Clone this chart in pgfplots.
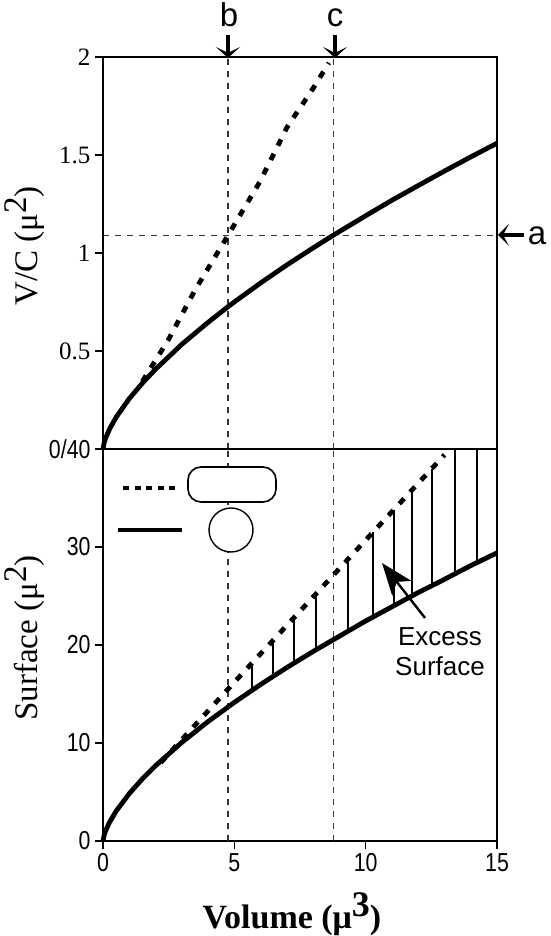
\documentclass[border=0pt]{standalone}
\usepackage{pgfplots}
\pgfplotsset{compat=1.18}
\usepackage{fontspec}
\setmainfont{Liberation Serif}
\newfontfamily\sansf{Liberation Sans}
\newfontfamily\ticksans[FakeStretch=0.82]{Liberation Sans}
\usetikzlibrary{arrows.meta}
\newcommand{\supr}[2]{\raisebox{0.34em}{\fontsize{#1}{#1}\selectfont #2}}
\pgfplotsset{
  common/.style={
    width=394pt, scale only axis, clip=false,
    xmin=0, xmax=15,
    axis line style={line width=1.4pt},
    tick style={line width=1.3pt, black},
    tick align=outside, major tick length=8pt,
    /pgf/number format/assume math mode=true,
  },
  guide/.style={black!80, line width=1.1pt, dash pattern=on 6pt off 6pt},
  solidc/.style={black, line width=4.8pt},
  dotc/.style={black, line width=4.8pt, dash pattern=on 7pt off 9pt},
  hatch/.style={black, line width=1.5pt},
}
\begin{document}
\begin{tikzpicture}[x=1pt,y=1pt]
\path[use as bounding box] (0,0) rectangle (550,936);
% upper panel
\begin{axis}[common, at={(103pt,487pt)}, height=392pt,
  ymin=0, ymax=2,
  xtick=\empty,
  ytick={0.5,1,1.5,2}, yticklabels={0.5,1,1.5,2},
  ytick pos=left,
  yticklabel style={font=\fontsize{25}{25}\selectfont, xshift=-1pt},
  ylabel={V/C (μ\supr{33}{2})},
  every axis y label/.style={rotate=90, anchor=base, inner sep=0pt,
     at={(-65pt,203pt)}, font=\fontsize{33}{33}\selectfont},
]
\addplot[guide] coordinates {(4.76,0) (4.76,2)};
\addplot[guide] coordinates {(8.76,0) (8.76,2)};
\addplot[guide] coordinates {(0,1.09) (15,1.09)};
\addplot[dotc] coordinates {(1.5,0.345) (2.5,0.56) (3.5,0.81) (4.76,1.09) (6,1.37) (7,1.64) (8,1.84) (8.6,1.97)};
\addplot[solidc] coordinates {(0,0) (0.05,0.035) (0.1,0.055) (0.25,0.102) (0.5,0.162) (1,0.257) (1.5,0.336) (2,0.407) (3,0.534) (4,0.646) (4.76,0.726) (5,0.75) (6,0.847) (7,0.939) (8,1.026) (8.76,1.09) (10,1.19) (11,1.269) (12,1.344) (13,1.418) (14,1.49) (15,1.56)};
\end{axis}
% lower panel
\begin{axis}[common, at={(103pt,95pt)}, height=392pt,
  ymin=0, ymax=40,
  xtick={0,5,10,15}, xtick pos=bottom,
  ytick={0,10,20,30,40}, yticklabels={0,10,20,30,0/40},
  ytick pos=left,
  ticklabel style={font=\ticksans\fontsize{26}{26}\selectfont},
  yticklabel style={xshift=-1pt},
  xticklabel style={yshift=-1pt},
  xlabel={\textbf{Volume (μ\supr{36}{3})}},
  every axis x label/.style={at={(189pt,-73pt)}, anchor=center, font=\fontsize{34}{34}\selectfont},
  ylabel={Surface (μ\supr{33}{2})},
  every axis y label/.style={rotate=90, anchor=base, inner sep=0pt,
     at={(-65pt,203pt)}, font=\fontsize{33}{33}\selectfont},
]
\addplot[guide] coordinates {(4.76,0) (4.76,40)};
\addplot[guide] coordinates {(8.76,0) (8.76,40)};
% hatch lines of the excess surface
\addplot[hatch] coordinates {(5.67,15.4) (5.67,18.1)};
\addplot[hatch] coordinates {(6.47,16.8) (6.47,20.4)};
\addplot[hatch] coordinates {(7.27,18.1) (7.27,22.8)};
\addplot[hatch] coordinates {(8.11,19.5) (8.11,25.2)};
\addplot[hatch] coordinates {(9.32,21.4) (9.32,28.7)};
\addplot[hatch] coordinates {(10.28,22.9) (10.28,31.5)};
\addplot[hatch] coordinates {(11.07,24.0) (11.07,33.8)};
\addplot[hatch] coordinates {(11.76,25.0) (11.76,35.8)};
\addplot[hatch] coordinates {(12.52,26.1) (12.52,38.0)};
\addplot[hatch] coordinates {(13.4,27.3) (13.4,40)};
\addplot[hatch] coordinates {(14.23,28.4) (14.23,40)};
\addplot[dotc] coordinates {(2.2,8.0) (5,16.2) (8,24.9) (11,33.6) (13,39.4)};
\addplot[solidc] coordinates {(0,0) (0.05,0.66) (0.1,1.04) (0.25,1.92) (0.5,3.05) (1,4.84) (1.5,6.34) (2,7.68) (3,10.06) (4,12.19) (5,14.14) (6,15.97) (7,17.7) (8,19.34) (9,20.9) (10,22.45) (11,23.9) (12,25.35) (13,26.7) (14,28.1) (15,29.4)};
\end{axis}
% annotations, in pixel coordinates of the reference
\begin{scope}[x=1pt,y=-1pt,yshift=936pt]
\draw[black, line width=1.6pt, fill=white, rounded corners=13pt] (188,467) rectangle (276,502);
\draw[black, line width=1.4pt, fill=white] (231,530) circle (22);
\draw[black, line width=3.4pt, dash pattern=on 6pt off 5.5pt] (123,488) -- (177,488);
\draw[black, line width=3.2pt] (118,530) -- (182,530);
\draw[line width=3.6pt, -{Stealth[length=11pt,width=24pt,inset=6pt]}] (228,35) -- (228,58);
\draw[line width=3.6pt, -{Stealth[length=11pt,width=24pt,inset=6pt]}] (335,35) -- (335,58);
\draw[line width=3.6pt, -{Stealth[length=11pt,width=22pt,inset=6pt]}] (524,235) -- (498,235);
\node[font=\sansf\fontsize{33}{33}\selectfont, anchor=base, inner sep=0pt] at (229,27) {b};
\node[font=\sansf\fontsize{33}{33}\selectfont, anchor=base, inner sep=0pt] at (335,27) {c};
\node[font=\sansf\fontsize{33}{33}\selectfont, anchor=base, inner sep=0pt] at (537,245) {a};
\draw[line width=2.4pt, -{Stealth[length=32pt,width=24pt,inset=8pt]}] (425,618) -- (382,563);
\node[font=\sansf\fontsize{26}{26}\selectfont, anchor=base] at (440,646) {Excess};
\node[font=\sansf\fontsize{26}{26}\selectfont, anchor=base] at (440,676) {Surface};
\end{scope}
\end{tikzpicture}
\end{document}
